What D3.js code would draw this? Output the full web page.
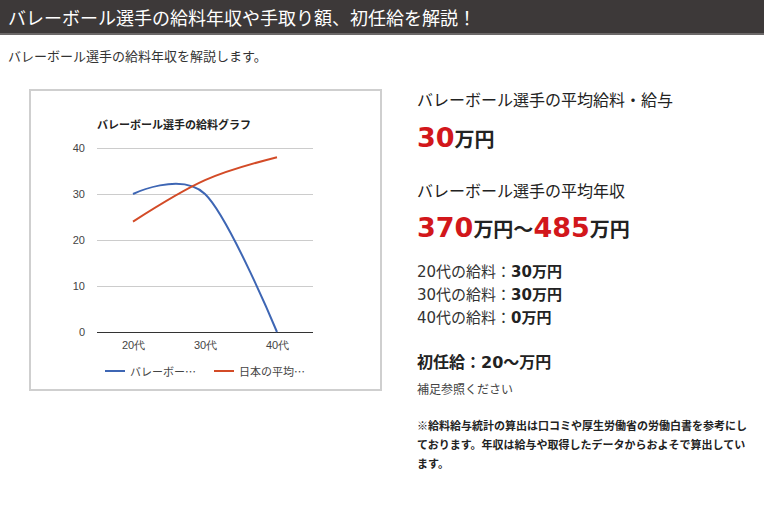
<!DOCTYPE html>
<html>
<head>
<meta charset="utf-8">
<script src="https://cdn.jsdelivr.net/npm/d3@7"></script>
<style>
	body { margin: 0; background: #fff; }
	svg { display: block; font-family: "Noto Sans CJK JP", "Noto Sans", sans-serif; }
	.num { font-family: "DejaVu Sans", sans-serif; }
</style>
</head>
<body>
<svg id="page"></svg>
<script>
	// chart data
	var categories = ['20代', '30代', '40代'],
		volleyball = [30, 30, 0],
		japanAvg = [24, 33, 38],
		yTicks = [0, 10, 20, 30, 40],
		legendLabels = ['バレーボー…', '日本の平均…'],
		seriesColours = ['#3e66b4', '#d34b27'];

	// side texts
	var ageRows = [
		['20', '代の給料：', '30', '万円'],
		['30', '代の給料：', '30', '万円'],
		['40', '代の給料：', '0', '万円']
	],
		noteLines = [
			'※給料給与統計の算出は口コミや厚生労働省の労働白書を参考にし',
			'ております。年収は給与や取得したデータからおよそで算出してい',
			'ます。'
		];

	var svg = d3.select('#page').attr('width', 764).attr('height', 512);

	// header bar
	svg.append('rect').attr('x', 0).attr('y', 0).attr('width', 764).attr('height', 33).attr('fill', '#3d3939');
	svg.append('rect').attr('x', 0).attr('y', 33).attr('width', 764).attr('height', 2).attr('fill', '#6b6868');
	svg.append('text')
		.attr('x', 8).attr('y', 17)
		.attr('dominant-baseline', 'central')
		.attr('fill', '#fff')
		.style('font-size', '18px')
		.text('バレーボール選手の給料年収や手取り額、初任給を解説！');

	svg.append('text')
		.attr('x', 8).attr('y', 55)
		.attr('dominant-baseline', 'central')
		.attr('fill', '#333')
		.style('font-size', '13px')
		.text('バレーボール選手の給料年収を解説します。');

	// chart card
	svg.append('rect')
		.attr('x', 30).attr('y', 90).attr('width', 351).attr('height', 300)
		.attr('fill', '#fff').attr('stroke', '#cfcfcf').attr('stroke-width', 2);

	var chart = svg.append('g');

	chart.append('text')
		.attr('x', 97).attr('y', 124)
		.attr('dominant-baseline', 'central')
		.attr('fill', '#222')
		.style('font-size', '11px').style('font-weight', 'bold')
		.text('バレーボール選手の給料グラフ');

	var x = d3.scalePoint().domain(categories).range([97, 313]).padding(0.5),
		y = d3.scaleLinear().domain([0, 40]).range([332, 148]);

	var yAxis = chart.append('g')
		.attr('transform', 'translate(97,0)')
		.call(d3.axisLeft(y).tickValues(yTicks).tickSize(-216).tickPadding(12));
	yAxis.select('.domain').remove();
	yAxis.selectAll('line').attr('stroke', '#cccccc');
	yAxis.selectAll('text').attr('fill', '#444').style('font-size', '11px').style('font-family', 'Arial, "Liberation Sans", sans-serif');

	var xAxis = chart.append('g')
		.attr('transform', 'translate(0,332)')
		.call(d3.axisBottom(x).tickSize(0).tickPadding(9));
	xAxis.select('.domain').attr('stroke', '#333').attr('d', 'M97,0.5H313');
	xAxis.selectAll('text').attr('fill', '#444').style('font-size', '11px');

	var line = d3.line()
		.x(function (d, i) { return x(categories[i]); })
		.y(function (d) { return y(d); })
		.curve(d3.curveCardinal.tension(0));

	[volleyball, japanAvg].forEach(function (series, i) {
		chart.append('path')
			.attr('d', line(series))
			.attr('fill', 'none')
			.attr('stroke', seriesColours[i])
			.attr('stroke-width', 2);
	});

	// legend
	var legend = chart.selectAll('.legend')
		.data(legendLabels).enter()
		.append('g')
			.attr('class', 'legend')
			.attr('transform', function (d, i) { return 'translate(' + (105 + i * 109) + ',371)'; });
	legend.append('line')
		.attr('x1', 0).attr('x2', 20)
		.attr('stroke', function (d, i) { return seriesColours[i]; })
		.attr('stroke-width', 2);
	legend.append('text')
		.attr('x', 25)
		.attr('dominant-baseline', 'central')
		.attr('fill', '#444')
		.style('font-size', '11px')
		.text(function (d) { return d; });

	// right column
	var side = svg.append('g').attr('fill', '#222');

	side.append('text')
		.attr('x', 417).attr('y', 99)
		.attr('dominant-baseline', 'central')
		.style('font-size', '16px')
		.text('バレーボール選手の平均給料・給与');

	var bigPay = side.append('text').attr('x', 417).attr('y', 147).style('font-weight', 'bold');
	bigPay.append('tspan').attr('class', 'num').attr('fill', '#d2171b').style('font-size', '27px').text('30');
	bigPay.append('tspan').style('font-size', '20px').text('万円');

	side.append('text')
		.attr('x', 417).attr('y', 190)
		.attr('dominant-baseline', 'central')
		.style('font-size', '16px')
		.text('バレーボール選手の平均年収');

	var bigYear = side.append('text').attr('x', 417).attr('y', 237).style('font-weight', 'bold');
	bigYear.append('tspan').attr('class', 'num').attr('fill', '#d2171b').style('font-size', '27px').text('370');
	bigYear.append('tspan').style('font-size', '20px').text('万円〜');
	bigYear.append('tspan').attr('class', 'num').attr('fill', '#d2171b').style('font-size', '27px').text('485');
	bigYear.append('tspan').style('font-size', '20px').text('万円');

	// mixed-font lines use the alphabetic baseline so the runs line up
	var rows = side.selectAll('.age-row')
		.data(ageRows).enter()
		.append('text')
			.attr('class', 'age-row')
			.attr('x', 417)
			.attr('y', function (d, i) { return 277 + i * 23; })
			.style('font-size', '15px');
	rows.append('tspan').attr('class', 'num').attr('fill', '#333').text(function (d) { return d[0]; });
	rows.append('tspan').attr('fill', '#333').text(function (d) { return d[1]; });
	rows.append('tspan').attr('class', 'num').style('font-weight', 'bold').text(function (d) { return d[2]; });
	rows.append('tspan').style('font-weight', 'bold').text(function (d) { return d[3]; });

	var firstPay = side.append('text')
		.attr('x', 417).attr('y', 368)
		.style('font-size', '16px').style('font-weight', 'bold');
	firstPay.append('tspan').text('初任給：');
	firstPay.append('tspan').attr('class', 'num').text('20');
	firstPay.append('tspan').text('〜万円');

	side.append('text')
		.attr('x', 417).attr('y', 388)
		.attr('dominant-baseline', 'central')
		.attr('fill', '#444')
		.style('font-size', '12px')
		.text('補足参照ください');

	side.selectAll('.note')
		.data(noteLines).enter()
		.append('text')
			.attr('class', 'note')
			.attr('x', 417)
			.attr('y', function (d, i) { return 425 + i * 19; })
			.attr('dominant-baseline', 'central')
			.style('font-size', '11px').style('font-weight', 'bold')
			.text(function (d) { return d; });
</script>
</body>
</html>
